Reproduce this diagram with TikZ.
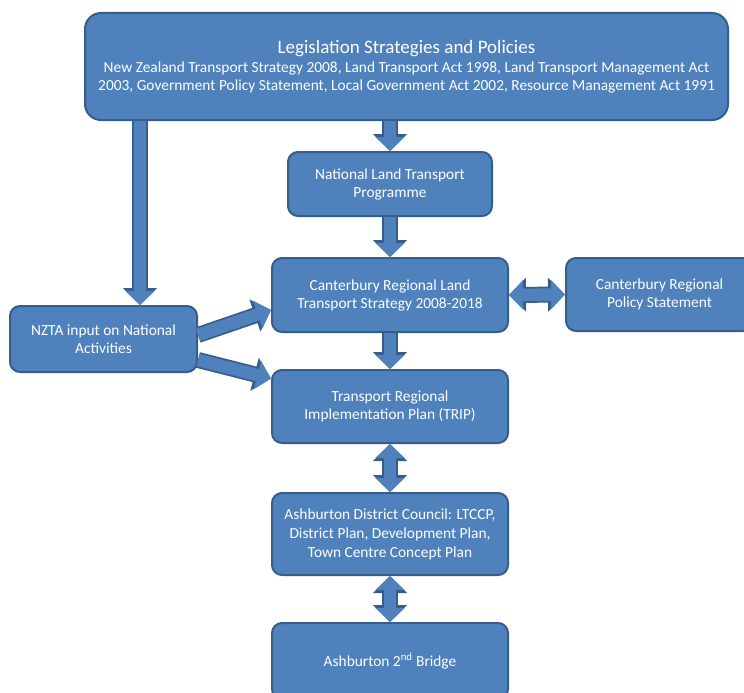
\documentclass[tikz,border=0pt]{standalone}
\usepackage{fontspec}
\setmainfont{Carlito}
\usetikzlibrary{arrows.meta,calc}
\definecolor{boxfill}{HTML}{4F81BD}
\definecolor{boxedge}{HTML}{385D8A}
\tikzset{
  blk/.style={draw=boxedge, fill=boxfill, line width=2pt, rounded corners=10pt,
    text=white, align=center, inner sep=0pt, font=\fontsize{15.4}{18}\selectfont},
  arrowout/.style={draw=boxedge, line width=16pt, -{Triangle[width=33pt,length=17pt]}},
  arrowin/.style={draw=boxfill, line width=12.5pt, -{Triangle[width=28.5pt,length=14pt]}},
  darrowout/.style={draw=boxedge, line width=16pt, {Triangle[width=33pt,length=17pt]}-{Triangle[width=33pt,length=17pt]}},
  darrowin/.style={draw=boxfill, line width=12.5pt, {Triangle[width=28.5pt,length=14pt]}-{Triangle[width=28.5pt,length=14pt]}},
}
\newcommand{\blockarrow}[2]{\draw[arrowout] #1 -- #2; \draw[arrowin] #1 -- #2;}
\newcommand{\dblockarrow}[2]{\draw[darrowout] #1 -- #2; \draw[darrowin] #1 -- #2;}
\begin{document}
\begin{tikzpicture}[x=1pt,y=-1pt]
\useasboundingbox (0,0) rectangle (744,693);
\clip (0,0) rectangle (744,693);
\node[blk, rounded corners=16pt, minimum width=643pt, minimum height=107pt] (top) at (406.5,66.5)
  {{\fontsize{19}{21}\selectfont Legislation Strategies and Policies}\\[1pt]
   New Zealand Transport Strategy 2008, Land Transport Act 1998, Land Transport Management Act\\
   2003, Government Policy Statement, Local Government Act 2002, Resource Management Act 1991};
\node[blk, minimum width=204pt, minimum height=64pt] (nltp) at (390,184)
  {National Land Transport\\Programme};
\node[blk, minimum width=236pt, minimum height=74pt] (crlts) at (390,295)
  {Canterbury Regional Land\\Transport Strategy 2008-2018};
\node[blk, minimum width=187pt, minimum height=73pt] (crps) at (659.5,294.5)
  {Canterbury Regional\\Policy Statement};
\node[blk, minimum width=187pt, minimum height=66pt] (nzta) at (103.5,339)
  {NZTA input on National\\Activities};
\node[blk, minimum width=236pt, minimum height=73pt] (trip) at (390,406.5)
  {Transport Regional\\Implementation Plan (TRIP)};
\node[blk, minimum width=236pt, minimum height=82pt, font=\fontsize{15.4}{19}\selectfont] (adc) at (390,534)
  {Ashburton District Council: LTCCP,\\District Plan, Development Plan,\\Town Centre Concept Plan};
\node[blk, minimum width=236pt, minimum height=76pt] (bridge) at (390,661)
  {Ashburton 2\textsuperscript{nd} Bridge};
\coordinate (la) at ([xshift=36.5pt]nzta.north);
\blockarrow{(top.south -| nltp.north)}{(nltp.north)}
\blockarrow{(top.south -| la)}{(la)}
\blockarrow{(nltp.south)}{(crlts.north)}
\blockarrow{(crlts.south)}{(trip.north)}
\dblockarrow{(trip.south)}{(adc.north)}
\dblockarrow{(adc.south)}{(bridge.north)}
\dblockarrow{(crlts.east)}{(crps.west)}
\blockarrow{([yshift=4pt]nzta.east)}{([yshift=-15pt]crlts.west)}
\blockarrow{([yshift=-21pt]nzta.east)}{([yshift=28pt]trip.west)}
\end{tikzpicture}
\end{document}
